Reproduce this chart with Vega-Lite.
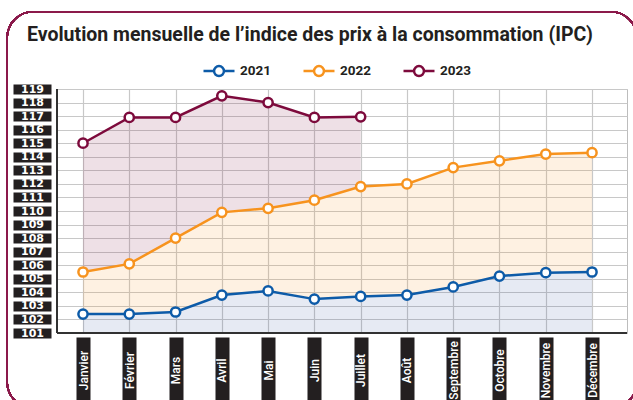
{
  "$schema": "https://vega.github.io/schema/vega-lite/v6.json",
  "width": 570,
  "height": 244,
  "autosize": {"type": "none"},
  "padding": {"left": 57, "top": 89, "right": 6, "bottom": 67},
  "background": "white",
  "title": {
    "text": "Evolution mensuelle de l’indice des prix à la consommation (IPC)",
    "anchor": "start", "frame": "group", "dx": -30, "offset": -50, "baseline": "alphabetic",
    "font": "Roboto", "fontSize": 19.5, "fontWeight": "bold", "color": "#231f20"
  },
  "data": {
    "values": [
      {"m": 1, "year": "2021", "v": 102.4}, {"m": 2, "year": "2021", "v": 102.4}, {"m": 3, "year": "2021", "v": 102.55},
      {"m": 4, "year": "2021", "v": 103.8}, {"m": 5, "year": "2021", "v": 104.1}, {"m": 6, "year": "2021", "v": 103.5},
      {"m": 7, "year": "2021", "v": 103.7}, {"m": 8, "year": "2021", "v": 103.8}, {"m": 9, "year": "2021", "v": 104.4},
      {"m": 10, "year": "2021", "v": 105.2}, {"m": 11, "year": "2021", "v": 105.45}, {"m": 12, "year": "2021", "v": 105.5},
      {"m": 1, "year": "2022", "v": 105.5}, {"m": 2, "year": "2022", "v": 106.1}, {"m": 3, "year": "2022", "v": 108.0},
      {"m": 4, "year": "2022", "v": 109.9}, {"m": 5, "year": "2022", "v": 110.2}, {"m": 6, "year": "2022", "v": 110.8},
      {"m": 7, "year": "2022", "v": 111.8}, {"m": 8, "year": "2022", "v": 112.0}, {"m": 9, "year": "2022", "v": 113.2},
      {"m": 10, "year": "2022", "v": 113.7}, {"m": 11, "year": "2022", "v": 114.2}, {"m": 12, "year": "2022", "v": 114.3},
      {"m": 1, "year": "2023", "v": 115.0}, {"m": 2, "year": "2023", "v": 116.9}, {"m": 3, "year": "2023", "v": 116.9},
      {"m": 4, "year": "2023", "v": 118.5}, {"m": 5, "year": "2023", "v": 118.0}, {"m": 6, "year": "2023", "v": 116.9},
      {"m": 7, "year": "2023", "v": 116.95}
    ]
  },
  "layer": [
    {
      "transform": [{"pivot": "year", "value": "v", "groupby": ["m"]}, {"filter": "isValid(datum['2023'])"}],
      "mark": {"type": "area", "color": "#8a2050", "opacity": 0.14},
      "encoding": {
        "x": {"field": "m", "type": "quantitative", "scale": {"domain": [0.438, 12.756], "nice": false, "zero": false},
          "axis": {"values": [1,2,3,4,5,6,7,8,9,10,11,12], "offset": 4, "domain": false, "tickSize": 70, "tickWidth": 14, "tickColor": "#231f20", "tickCap": "butt",
            "labelAngle": -90, "labelAlign": "center", "labelBaseline": "middle", "labelPadding": -37, "labelColor": "white", "labelFont": "Roboto", "labelFontSize": 12, "labelFontWeight": 500,
            "labelExpr": "['Janvier','Février','Mars','Avril','Mai','Juin','Juillet','Août','Septembre','Octobre','Novembre','Décembre'][datum.value-1]",
            "title": null, "grid": true, "gridColor": "#c8c8c8", "gridWidth": 1.2, "labelFlush": false, "labelOverlap": false}},
        "y": {"field": "2023", "type": "quantitative", "scale": {"domain": [101, 119], "nice": false, "zero": false},
          "axis": {"values": [101,102,103,104,105,106,107,108,109,110,111,112,113,114,115,116,117,118,119], "offset": 6, "domain": false, "tickSize": 38, "tickWidth": 10, "tickColor": "#231f20", "tickCap": "butt",
            "labelColor": "white", "labelFont": "DejaVu Sans", "labelFontWeight": "bold", "labelFontSize": 11, "labelAlign": "center", "labelBaseline": "middle", "labelPadding": -19,
            "title": null, "grid": true, "gridColor": "#c8c8c8", "gridWidth": 1.2, "labelFlush": false, "labelOverlap": false}},
        "y2": {"field": "2022"}
      }
    },
    {
      "transform": [{"pivot": "year", "value": "v", "groupby": ["m"]}],
      "mark": {"type": "area", "color": "#f7931e", "opacity": 0.13},
      "encoding": {
        "x": {"field": "m", "type": "quantitative",
          "axis": {"values": [1,2,3,4,5,6,7,8,9,10,11,12], "offset": 4, "domain": false, "tickSize": 70, "tickWidth": 14, "tickColor": "#231f20", "tickCap": "butt",
            "labelAngle": -90, "labelAlign": "center", "labelBaseline": "middle", "labelPadding": -37, "labelColor": "white", "labelFont": "Roboto", "labelFontSize": 12, "labelFontWeight": 500,
            "labelExpr": "['Janvier','Février','Mars','Avril','Mai','Juin','Juillet','Août','Septembre','Octobre','Novembre','Décembre'][datum.value-1]",
            "title": null, "grid": true, "gridColor": "#c8c8c8", "gridWidth": 1.2, "labelFlush": false, "labelOverlap": false}},
        "y": {"field": "2022", "type": "quantitative",
          "axis": {"values": [101,102,103,104,105,106,107,108,109,110,111,112,113,114,115,116,117,118,119], "offset": 6, "domain": false, "tickSize": 38, "tickWidth": 10, "tickColor": "#231f20", "tickCap": "butt",
            "labelColor": "white", "labelFont": "DejaVu Sans", "labelFontWeight": "bold", "labelFontSize": 11, "labelAlign": "center", "labelBaseline": "middle", "labelPadding": -19,
            "title": null, "grid": true, "gridColor": "#c8c8c8", "gridWidth": 1.2, "labelFlush": false, "labelOverlap": false}},
        "y2": {"field": "2021"}
      }
    },
    {
      "transform": [{"filter": "datum.year == '2021'"}],
      "mark": {"type": "area", "color": "#2e55a0", "opacity": 0.12},
      "encoding": {
        "x": {"field": "m", "type": "quantitative",
          "axis": {"values": [1,2,3,4,5,6,7,8,9,10,11,12], "offset": 4, "domain": false, "tickSize": 70, "tickWidth": 14, "tickColor": "#231f20", "tickCap": "butt",
            "labelAngle": -90, "labelAlign": "center", "labelBaseline": "middle", "labelPadding": -37, "labelColor": "white", "labelFont": "Roboto", "labelFontSize": 12, "labelFontWeight": 500,
            "labelExpr": "['Janvier','Février','Mars','Avril','Mai','Juin','Juillet','Août','Septembre','Octobre','Novembre','Décembre'][datum.value-1]",
            "title": null, "grid": true, "gridColor": "#c8c8c8", "gridWidth": 1.2, "labelFlush": false, "labelOverlap": false}},
        "y": {"field": "v", "type": "quantitative",
          "axis": {"values": [101,102,103,104,105,106,107,108,109,110,111,112,113,114,115,116,117,118,119], "offset": 6, "domain": false, "tickSize": 38, "tickWidth": 10, "tickColor": "#231f20", "tickCap": "butt",
            "labelColor": "white", "labelFont": "DejaVu Sans", "labelFontWeight": "bold", "labelFontSize": 11, "labelAlign": "center", "labelBaseline": "middle", "labelPadding": -19,
            "title": null, "grid": true, "gridColor": "#c8c8c8", "gridWidth": 1.2, "labelFlush": false, "labelOverlap": false}},
        "y2": {"datum": 101}
      }
    },
    {
      "mark": {"type": "rule", "color": "#333333", "strokeWidth": 1.5},
      "encoding": {"y": {"datum": 101,
          "axis": {"values": [101,102,103,104,105,106,107,108,109,110,111,112,113,114,115,116,117,118,119], "offset": 6, "domain": false, "tickSize": 38, "tickWidth": 10, "tickColor": "#231f20", "tickCap": "butt",
            "labelColor": "white", "labelFont": "DejaVu Sans", "labelFontWeight": "bold", "labelFontSize": 11, "labelAlign": "center", "labelBaseline": "middle", "labelPadding": -19,
            "title": null, "grid": true, "gridColor": "#c8c8c8", "gridWidth": 1.2, "labelFlush": false, "labelOverlap": false}}}
    },
    {
      "mark": {"type": "rule", "color": "#333333", "strokeWidth": 1.5},
      "encoding": {"x": {"datum": 0.438,
          "axis": {"values": [1,2,3,4,5,6,7,8,9,10,11,12], "offset": 4, "domain": false, "tickSize": 70, "tickWidth": 14, "tickColor": "#231f20", "tickCap": "butt",
            "labelAngle": -90, "labelAlign": "center", "labelBaseline": "middle", "labelPadding": -37, "labelColor": "white", "labelFont": "Roboto", "labelFontSize": 12, "labelFontWeight": 500,
            "labelExpr": "['Janvier','Février','Mars','Avril','Mai','Juin','Juillet','Août','Septembre','Octobre','Novembre','Décembre'][datum.value-1]",
            "title": null, "grid": true, "gridColor": "#c8c8c8", "gridWidth": 1.2, "labelFlush": false, "labelOverlap": false}}}
    },
    {
      "mark": {"type": "line", "strokeWidth": 2.5},
      "encoding": {
        "x": {"field": "m", "type": "quantitative",
          "axis": {"values": [1,2,3,4,5,6,7,8,9,10,11,12], "offset": 4, "domain": false, "tickSize": 70, "tickWidth": 14, "tickColor": "#231f20", "tickCap": "butt",
            "labelAngle": -90, "labelAlign": "center", "labelBaseline": "middle", "labelPadding": -37, "labelColor": "white", "labelFont": "Roboto", "labelFontSize": 12, "labelFontWeight": 500,
            "labelExpr": "['Janvier','Février','Mars','Avril','Mai','Juin','Juillet','Août','Septembre','Octobre','Novembre','Décembre'][datum.value-1]",
            "title": null, "grid": true, "gridColor": "#c8c8c8", "gridWidth": 1.2, "labelFlush": false, "labelOverlap": false}},
        "y": {"field": "v", "type": "quantitative",
          "axis": {"values": [101,102,103,104,105,106,107,108,109,110,111,112,113,114,115,116,117,118,119], "offset": 6, "domain": false, "tickSize": 38, "tickWidth": 10, "tickColor": "#231f20", "tickCap": "butt",
            "labelColor": "white", "labelFont": "DejaVu Sans", "labelFontWeight": "bold", "labelFontSize": 11, "labelAlign": "center", "labelBaseline": "middle", "labelPadding": -19,
            "title": null, "grid": true, "gridColor": "#c8c8c8", "gridWidth": 1.2, "labelFlush": false, "labelOverlap": false}},
        "color": {"field": "year", "type": "nominal",
          "scale": {"domain": ["2021", "2022", "2023"], "range": ["#0d5ba8", "#f7931e", "#7d0a3c"]},
          "legend": {"orient": "none", "legendX": 145, "legendY": -35, "direction": "horizontal", "title": null,
            "symbolType": "M-1,0H-0.32M0.32,0H1M0.32,0A0.32,0.32 0 1,1 -0.32,0A0.32,0.32 0 1,1 0.32,0",
            "symbolSize": 961, "symbolStrokeWidth": 2.5, "symbolFillColor": "white",
            "labelFont": "Roboto", "labelFontSize": 13.5, "labelFontWeight": "bold", "labelColor": "#231f20",
            "labelOffset": 4, "columnPadding": 27, "padding": 0}}
      }
    },
    {
      "mark": {"type": "point", "shape": "circle", "filled": false, "fill": "white", "fillOpacity": 1, "strokeWidth": 2.5, "size": 85, "opacity": 1},
      "encoding": {
        "x": {"field": "m", "type": "quantitative",
          "axis": {"values": [1,2,3,4,5,6,7,8,9,10,11,12], "offset": 4, "domain": false, "tickSize": 70, "tickWidth": 14, "tickColor": "#231f20", "tickCap": "butt",
            "labelAngle": -90, "labelAlign": "center", "labelBaseline": "middle", "labelPadding": -37, "labelColor": "white", "labelFont": "Roboto", "labelFontSize": 12, "labelFontWeight": 500,
            "labelExpr": "['Janvier','Février','Mars','Avril','Mai','Juin','Juillet','Août','Septembre','Octobre','Novembre','Décembre'][datum.value-1]",
            "title": null, "grid": true, "gridColor": "#c8c8c8", "gridWidth": 1.2, "labelFlush": false, "labelOverlap": false}},
        "y": {"field": "v", "type": "quantitative",
          "axis": {"values": [101,102,103,104,105,106,107,108,109,110,111,112,113,114,115,116,117,118,119], "offset": 6, "domain": false, "tickSize": 38, "tickWidth": 10, "tickColor": "#231f20", "tickCap": "butt",
            "labelColor": "white", "labelFont": "DejaVu Sans", "labelFontWeight": "bold", "labelFontSize": 11, "labelAlign": "center", "labelBaseline": "middle", "labelPadding": -19,
            "title": null, "grid": true, "gridColor": "#c8c8c8", "gridWidth": 1.2, "labelFlush": false, "labelOverlap": false}},
        "color": {"field": "year", "type": "nominal"}
      }
    },
    {
      "mark": {"type": "rect", "fill": "transparent", "stroke": "#8b1a4b", "strokeWidth": 1.5, "cornerRadius": 26},
      "encoding": {
        "x": {"datum": -0.64,
          "axis": {"values": [1,2,3,4,5,6,7,8,9,10,11,12], "offset": 4, "domain": false, "tickSize": 70, "tickWidth": 14, "tickColor": "#231f20", "tickCap": "butt",
            "labelAngle": -90, "labelAlign": "center", "labelBaseline": "middle", "labelPadding": -37, "labelColor": "white", "labelFont": "Roboto", "labelFontSize": 12, "labelFontWeight": 500,
            "labelExpr": "['Janvier','Février','Mars','Avril','Mai','Juin','Juillet','Août','Septembre','Octobre','Novembre','Décembre'][datum.value-1]",
            "title": null, "grid": true, "gridColor": "#c8c8c8", "gridWidth": 1.2, "labelFlush": false, "labelOverlap": false}},
        "x2": {"datum": 12.97},
        "y": {"datum": 124.7,
          "axis": {"values": [101,102,103,104,105,106,107,108,109,110,111,112,113,114,115,116,117,118,119], "offset": 6, "domain": false, "tickSize": 38, "tickWidth": 10, "tickColor": "#231f20", "tickCap": "butt",
            "labelColor": "white", "labelFont": "DejaVu Sans", "labelFontWeight": "bold", "labelFontSize": 11, "labelAlign": "center", "labelBaseline": "middle", "labelPadding": -19,
            "title": null, "grid": true, "gridColor": "#c8c8c8", "gridWidth": 1.2, "labelFlush": false, "labelOverlap": false}},
        "y2": {"datum": 95.47}
      }
    }
  ],
  "config": {
    "view": {"stroke": "#bdbdbd", "strokeWidth": 1}
  }
}
